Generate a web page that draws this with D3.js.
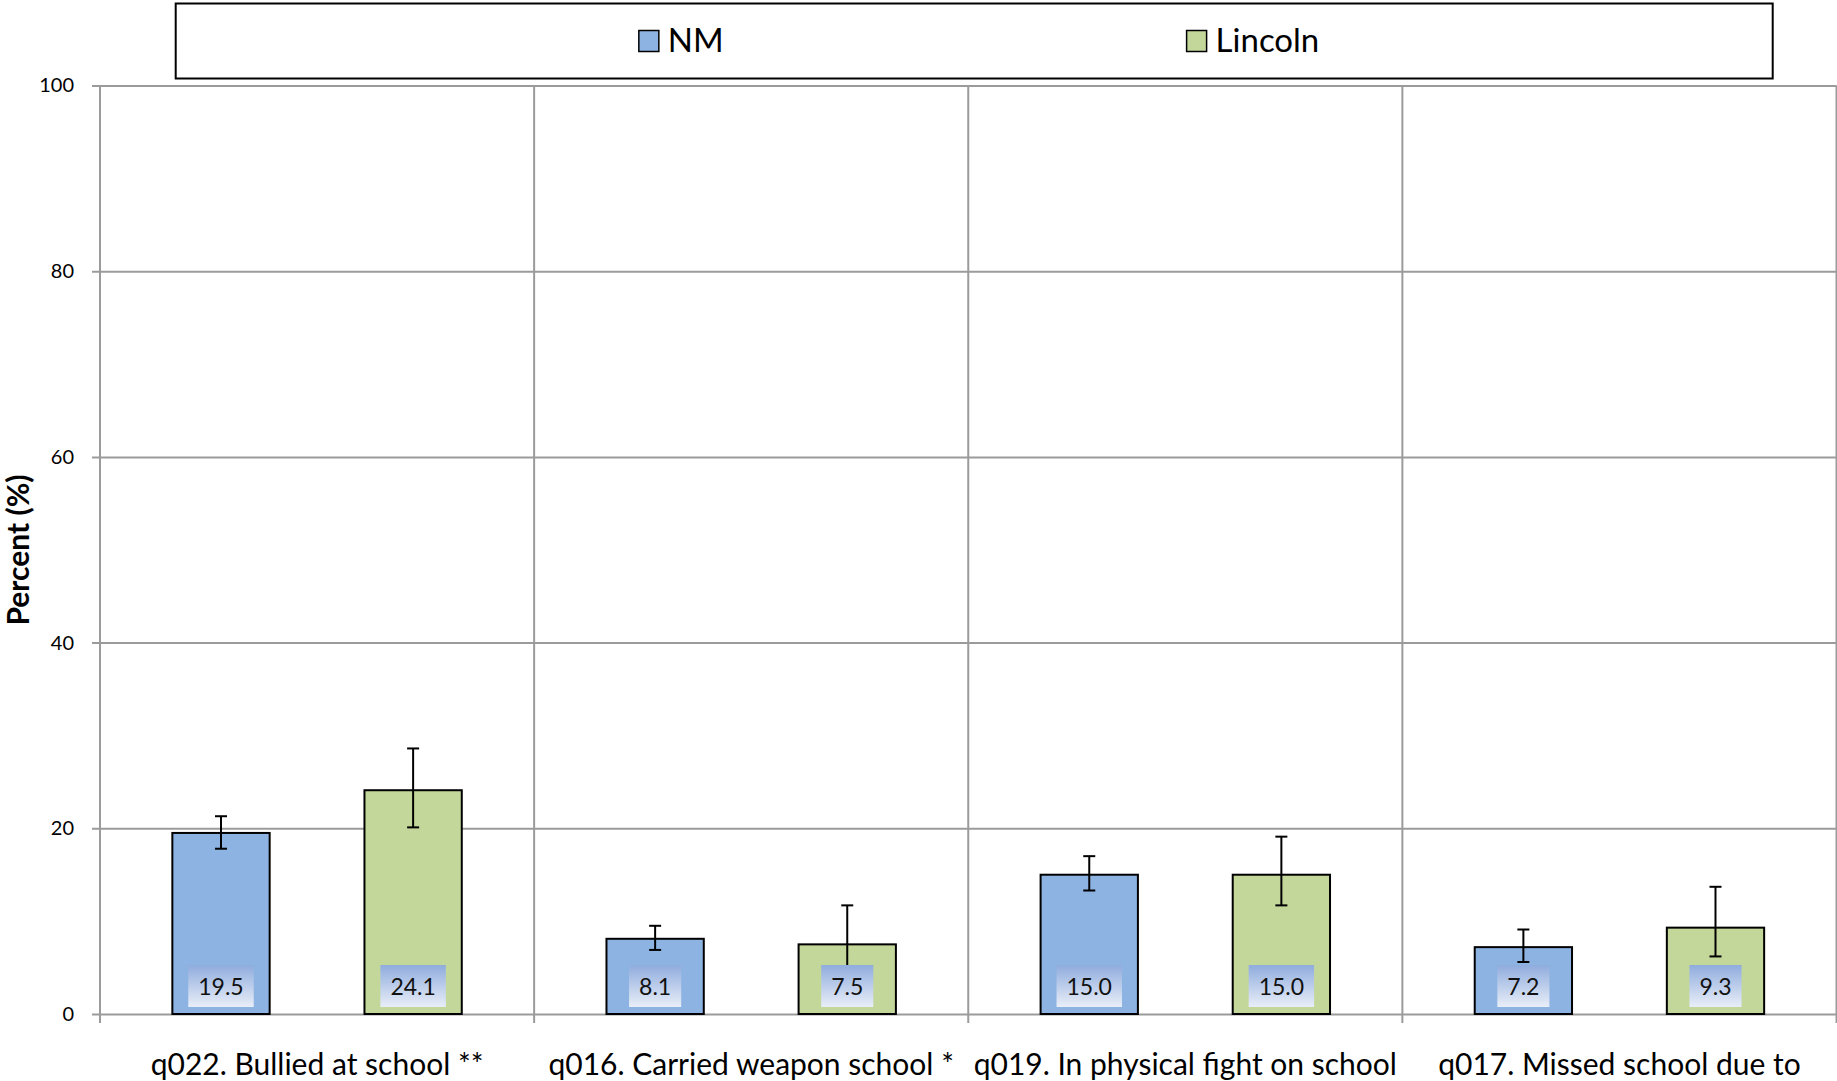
<!DOCTYPE html>
<html><head><meta charset="utf-8">
<script src="https://cdn.jsdelivr.net/npm/d3@7"></script>
<style>body{margin:0;background:#fff;} svg{display:block;}</style>
</head><body><svg id="chart" width="1837" height="1081"></svg>
<script>
const categories = ["q022. Bullied at school **", "q016. Carried weapon school *", "q019. In physical fight on school", "q017. Missed school due to"];
const seriesNames = ["NM", "Lincoln"];
const nmValues = [19.5, 8.1, 15.0, 7.2];
const nmLower = [17.8, 6.9, 13.3, 5.6];
const nmUpper = [21.3, 9.5, 17.0, 9.1];
const lincolnValues = [24.1, 7.5, 15.0, 9.3];
const lincolnLower = [20.1, 4.7, 11.7, 6.2];
const lincolnUpper = [28.6, 11.7, 19.1, 13.7];
const yTicks = [0, 20, 40, 60, 80, 100];
const yTitle = "Percent (%)";

const colors = {NM: "#8DB3E2", Lincoln: "#C4D79B"};
const FONT = "Lato, 'Open Sans', sans-serif";
const gridColor = "#9b9b9b";

const svg = d3.select("#chart");
const plot = {left: 100, right: 1836.5, top: 85.5, bottom: 1014};

const x0 = d3.scaleBand().domain(categories).range([plot.left, plot.right]).padding(0);
const x1 = d3.scaleBand().domain(seriesNames).range([0, x0.bandwidth()]).paddingInner(0.4935).paddingOuter(0.3766);
const y = d3.scaleLinear().domain([0, 100]).range([plot.bottom, plot.top]);

const data = categories.map((c, i) => ({
  cat: c,
  items: [
    {s: "NM", v: nmValues[i], lo: nmLower[i], hi: nmUpper[i]},
    {s: "Lincoln", v: lincolnValues[i], lo: lincolnLower[i], hi: lincolnUpper[i]}
  ]
}));

// horizontal gridlines + y ticks
const yAxis = d3.axisLeft(y).tickValues(yTicks).tickSize(plot.right - plot.left + 8).tickPadding(18);
const ga = svg.append("g").attr("transform", `translate(${plot.right},0)`).call(yAxis);
ga.select(".domain").remove();
ga.selectAll(".tick line").attr("stroke", gridColor).attr("stroke-width", 2);
ga.selectAll(".tick text").attr("font-family", FONT).attr("font-size", 20).attr("fill", "#000")
  .attr("x", -(plot.right - 74)).attr("text-anchor", "end");

// vertical category dividers
const bounds = categories.map(c => x0(c)).concat([plot.right]);
svg.append("g").selectAll("line").data(bounds).join("line")
  .attr("x1", d => d).attr("x2", d => d)
  .attr("y1", plot.top).attr("y2", plot.bottom + 9)
  .attr("stroke", gridColor).attr("stroke-width", 2);

// bars
const groups = svg.append("g").selectAll("g").data(data).join("g")
  .attr("transform", d => `translate(${x0(d.cat)},0)`);

groups.selectAll("rect.bar").data(d => d.items).join("rect").attr("class", "bar")
  .attr("x", d => x1(d.s)).attr("width", x1.bandwidth())
  .attr("y", d => y(d.v)).attr("height", d => y(0) - y(d.v))
  .attr("fill", d => colors[d.s]).attr("stroke", "#000").attr("stroke-width", 2);

// error bars
const eb = groups.selectAll("g.err").data(d => d.items).join("g").attr("class", "err")
  .attr("stroke", "#000").attr("stroke-width", 2);
eb.append("line").attr("x1", d => x1(d.s) + x1.bandwidth() / 2).attr("x2", d => x1(d.s) + x1.bandwidth() / 2)
  .attr("y1", d => y(d.lo)).attr("y2", d => y(d.hi));
eb.append("line").attr("x1", d => x1(d.s) + x1.bandwidth() / 2 - 6).attr("x2", d => x1(d.s) + x1.bandwidth() / 2 + 6)
  .attr("y1", d => y(d.lo)).attr("y2", d => y(d.lo));
eb.append("line").attr("x1", d => x1(d.s) + x1.bandwidth() / 2 - 6).attr("x2", d => x1(d.s) + x1.bandwidth() / 2 + 6)
  .attr("y1", d => y(d.hi)).attr("y2", d => y(d.hi));

// value label gradient
const defs = svg.append("defs");
const grad = defs.append("linearGradient").attr("id", "lblGrad").attr("x1", 0).attr("y1", 0).attr("x2", 0).attr("y2", 1);
grad.append("stop").attr("offset", "0%").attr("stop-color", "#8FACDD");
grad.append("stop").attr("offset", "100%").attr("stop-color", "#E9EEF8");

// value labels
const lbl = groups.selectAll("g.lbl").data(d => d.items).join("g").attr("class", "lbl");
lbl.each(function(d) {
  const g = d3.select(this);
  const cx = x1(d.s) + x1.bandwidth() / 2;
  const boxBottom = y(0) - 7, boxH = 42;
  const t = g.append("text").attr("x", cx).attr("y", boxBottom - 12)
    .attr("text-anchor", "middle").attr("font-family", FONT).attr("font-size", 23).attr("fill", "#111")
    .text(d.v.toFixed(1));
  const tw = t.node().getComputedTextLength();
  g.insert("rect", "text").attr("x", cx - tw / 2 - 10).attr("width", tw + 20)
    .attr("y", boxBottom - boxH).attr("height", boxH).attr("fill", "url(#lblGrad)");
});

// category labels
svg.append("g").selectAll("text").data(categories).join("text")
  .attr("x", d => x0(d) + x0.bandwidth() / 2).attr("y", 1075)
  .attr("text-anchor", "middle").attr("font-family", FONT).attr("font-size", 30).attr("fill", "#000")
  .text(d => d);

// y title
svg.append("text").attr("transform", "translate(29,550) rotate(-90)")
  .attr("text-anchor", "middle").attr("font-family", FONT).attr("font-weight", "bold")
  .attr("font-size", 30).attr("fill", "#000").text(yTitle);

// legend
const lg = {x: 175.7, y: 3.5, w: 1597, h: 75};
svg.append("rect").attr("x", lg.x).attr("y", lg.y).attr("width", lg.w).attr("height", lg.h)
  .attr("fill", "#fff").attr("stroke", "#000").attr("stroke-width", 2);
const legendPos = d3.scaleOrdinal().domain(seriesNames).range([0.29, 0.633]);
const li = svg.append("g").selectAll("g").data(seriesNames).join("g")
  .attr("transform", d => `translate(${lg.x + lg.w * legendPos(d)},${lg.y + lg.h / 2})`);
li.append("rect").attr("x", 0).attr("y", -10.5).attr("width", 20).attr("height", 21)
  .attr("fill", d => colors[d]).attr("stroke", "#000").attr("stroke-width", 1.5);
li.append("text").attr("x", 29).attr("y", 0).attr("dy", "0.34em")
  .attr("font-family", FONT).attr("font-size", 33).attr("fill", "#000").text(d => d);
</script>
</body></html>
